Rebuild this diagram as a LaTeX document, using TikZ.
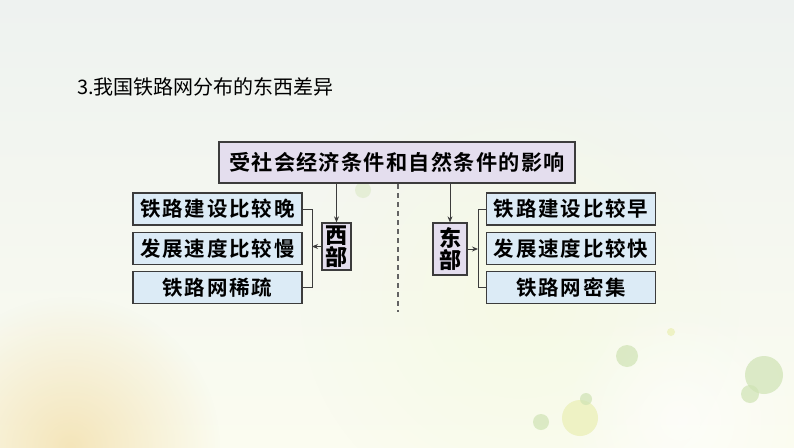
\documentclass[tikz,border=0pt]{standalone}
\usepackage{fontspec}
\setmainfont{Noto Sans CJK SC}
\newfontfamily\cjk{Noto Sans CJK SC}
\newfontfamily\cjkbold[LetterSpace=9]{Noto Sans CJK SC Bold}
\newfontfamily\cjkboldtop[LetterSpace=6]{Noto Sans CJK SC Bold}
\usetikzlibrary{arrows.meta,fadings}
\tikzfading[name=softblob, inner color=transparent!0, outer color=transparent!100]
\definecolor{boxline}{HTML}{3C3C3C}
\definecolor{lav}{HTML}{E4DEEE}
\definecolor{lblue}{HTML}{DCEBF6}
\definecolor{dotg}{HTML}{CFE3B4}
\definecolor{doty}{HTML}{EEF2C4}
\tikzset{
  box/.style={draw=boxline, line width=1.3pt, inner sep=0pt, text=black, font=\cjkbold\fontsize{20.5}{22}\selectfont},
  topbox/.style={box, fill=lav, minimum width=356pt, minimum height=41pt, font=\cjkboldtop\fontsize{21.2}{22}\selectfont},
  itembox/.style={box, fill=lblue, minimum width=169pt, minimum height=32pt},
  sidebox/.style={box, fill=lav, align=center, font=\cjk\bfseries\fontsize{22}{22}\selectfont},
  link/.style={draw=boxline, line width=0.9pt},
  arr/.style={link, -{Stealth[length=6pt,width=5pt]}},
  dot/.style={fill=dotg, opacity=0.7},
}
\begin{document}
\begin{tikzpicture}[x=1pt,y=-1pt]
\useasboundingbox (0,0) rectangle (794,447);
% background
\shade[top color={rgb,255:red,238;green,242;blue,240}, bottom color={rgb,255:red,251;green,252;blue,240}] (0,0) rectangle (794,447);
\fill[color={rgb,255:red,240;green,214;blue,150}, opacity=0.6, path fading=softblob] (70,447) circle (150);
\fill[color={rgb,255:red,246;green,250;blue,228}, opacity=0.9, path fading=softblob] (520,300) circle (220);
\fill[color=white, opacity=0.6, path fading=softblob] (680,420) circle (120);
\fill[dot] (627,356) circle (11);
\fill[dot] (764,375) circle (19);
\fill[dot] (750,394) circle (9);
\fill[doty] (580,418) circle (18);
\fill[dot] (586,399) circle (6);
\fill[dot] (541,422) circle (8);
\fill[doty] (671,332) circle (4);
\fill[dot, opacity=0.4] (363,190) circle (8);
% title
\node[anchor=west, font=\cjk\fontsize{20}{22}\selectfont, inner sep=0pt] (title) at (77,87) {3.我国铁路网分布的东西差异};
% boxes
\node[topbox] (top) at (397,162.5) {受社会经济条件和自然条件的影响};
\node[itembox] (w1) at (217.5,209) {铁路建设比较晚};
\node[itembox] (w2) at (217.5,248.5) {发展速度比较慢};
\node[itembox] (w3) at (217.5,287.5) {铁路网稀疏};
\node[sidebox, minimum width=29pt, minimum height=47pt] (west) at (336.5,246.5) {西\\部};
\node[sidebox, minimum width=34pt, minimum height=52pt] (east) at (450,249) {东\\部};
\node[itembox] (e1) at (571,209) {铁路建设比较早};
\node[itembox] (e2) at (571,248.5) {发展速度比较快};
\node[itembox] (e3) at (571,287.5) {铁路网密集};
% connectors
\coordinate (wbx) at (312,0);
\coordinate (ebx) at (478,0);
\draw[arr] (top.south -| west.north) -- (west.north);
\draw[arr] (top.south -| east.north) -- (east.north);
\draw[link] (w1.east) -- (w1.east -| wbx) -- (w3.east -| wbx) -- (w3.east);
\draw[arr] (west.west) -- (west.west -| wbx);
\draw[link] (e1.west) -- (e1.west -| ebx) -- (e3.west -| ebx) -- (e3.west);
\draw[arr] (east.east) -- (east.east -| ebx);
\coordinate (dtop) at (398,184);
\coordinate (dbot) at (398,312);
\draw[boxline!80, line width=1.2pt, dash pattern=on 5pt off 4pt] (dtop) -- (dbot);
\end{tikzpicture}
\end{document}
